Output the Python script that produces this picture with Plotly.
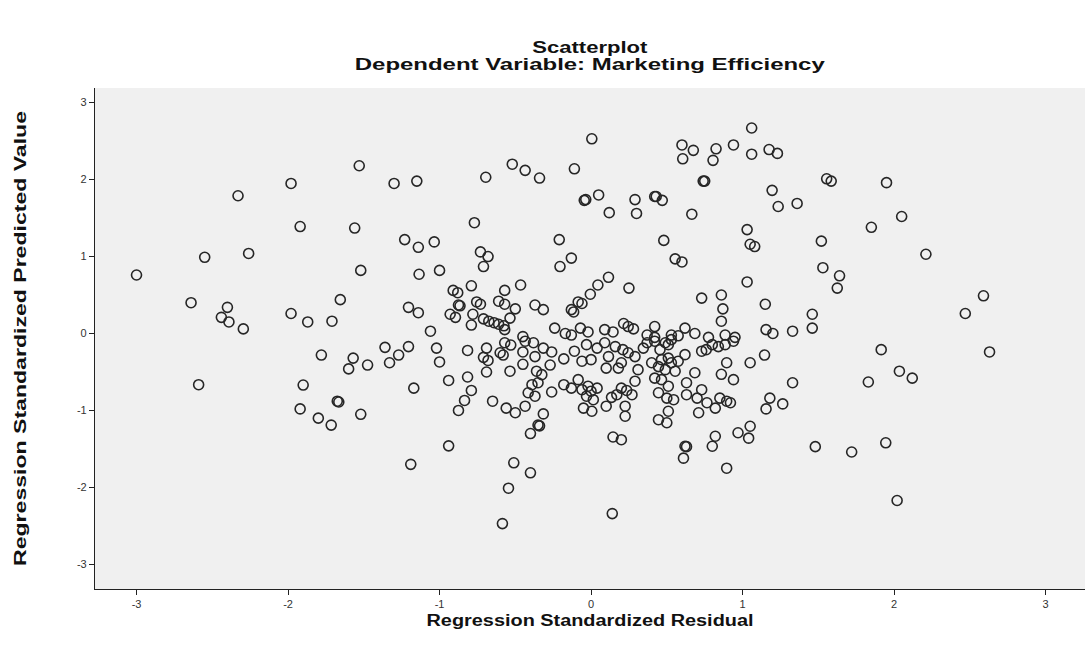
import plotly.graph_objects as go

# (residual, predicted) pairs, grouped by region
pts_top = [(1.06,2.67),(0.005,2.53),(0.60,2.45),(0.675,2.38),(0.605,2.27),(0.825,2.40),(0.805,2.25),(0.94,2.45),(1.06,2.33),(1.175,2.39),(1.23,2.34),
           (-0.695,2.03),(-0.52,2.20),(-0.435,2.12),(-0.34,2.02),(-0.11,2.14),
           (-0.045,1.73),(-0.035,1.74),(0.05,1.80),(0.29,1.74),(0.12,1.57),(0.30,1.56),(0.42,1.78),(0.43,1.78),(0.47,1.73),(0.665,1.55),
           (0.74,1.98),(0.75,1.98),(1.555,2.01),(1.585,1.98),(1.95,1.96),(1.195,1.86),(1.36,1.69),(1.235,1.65),(2.05,1.52),
           (-2.33,1.79),(-1.98,1.95),(-1.53,2.18),(-1.30,1.95),(-1.15,1.98),(-0.77,1.44)]

pts_upper_left = [(-1.92,1.39),(-1.56,1.37),(-1.23,1.22),(-1.14,1.12),(-1.035,1.19),(-2.55,0.99),(-2.26,1.04),(-3.00,0.76),(-1.52,0.82),(-1.135,0.77),(-1.00,0.82),
                  (-2.64,0.40),(-2.40,0.34),(-2.44,0.21),(-2.39,0.15),(-2.295,0.06),(-1.98,0.26),(-1.87,0.15),(-1.71,0.16),(-1.655,0.44),(-1.205,0.34),(-1.14,0.27),(-1.06,0.03)]

pts_upper_mid = [(-0.21,1.22),(0.48,1.21),(1.03,1.35),(1.05,1.16),(1.08,1.13),(-0.73,1.06),(-0.68,1.00),(-0.71,0.87),(-0.13,0.98),(-0.205,0.87),(0.555,0.97),(0.60,0.93),
                 (1.03,0.67),(0.115,0.73),(0.045,0.63),(-0.005,0.51),(0.25,0.59),(-0.465,0.63),(-0.79,0.62),(-0.91,0.56),(-0.88,0.53),(-0.57,0.56),(0.73,0.46),(0.86,0.50),(0.87,0.32),(0.86,0.16),
                 (-0.875,0.37),(-0.865,0.36),(-0.755,0.41),(-0.73,0.38),(-0.61,0.42),(-0.57,0.38),(-0.50,0.32),(-0.37,0.37),(-0.315,0.31),(-0.085,0.41),(-0.06,0.39),(-0.13,0.31),(-0.115,0.28),
                 (-0.93,0.25),(-0.895,0.21),(-0.78,0.25),(-0.79,0.11),(-0.71,0.19),(-0.675,0.16),(-0.64,0.14),(-0.61,0.12),(-0.575,0.10),(-0.535,0.20),(-0.57,0.05),
                 (-0.24,0.07),(-0.17,0.00),(-0.13,-0.02),(-0.07,0.07),(-0.02,0.02),(-0.45,-0.04),(0.09,0.05),(0.145,0.02),(0.215,0.13),(0.245,0.09),(0.28,0.06),(0.42,0.09),
                 (0.37,-0.02),(0.42,-0.05),(0.53,-0.02),(0.575,-0.03),(0.62,0.07),(0.685,0.00),(0.885,-0.02),(0.95,-0.05),(0.775,-0.05)]

pts_upper_right = [(1.85,1.38),(1.52,1.20),(2.21,1.03),(1.53,0.855),(1.64,0.75),(1.625,0.59),(2.59,0.49),(2.47,0.26),(1.15,0.38),(1.46,0.25),(1.46,0.07),(1.33,0.03),(1.155,0.05),(1.20,0.00)]

pts_lower_left = [(-1.78,-0.28),(-1.57,-0.32),(-1.60,-0.46),(-1.475,-0.41),(-1.36,-0.18),(-1.205,-0.17),(-1.27,-0.28),(-1.33,-0.38),(-1.17,-0.71),(-2.59,-0.665),(-1.90,-0.67),
                  (-1.675,-0.88),(-1.665,-0.89),(-1.92,-0.98),(-1.80,-1.10),(-1.715,-1.19),(-1.52,-1.05),(-1.19,-1.70)]

pts_dense = [(-1.02,-0.19),(-1.00,-0.37),(-0.815,-0.22),(-0.69,-0.19),(-0.71,-0.31),(-0.68,-0.35),(-0.57,-0.12),(-0.53,-0.15),(-0.58,-0.28),(-0.60,-0.25),(-0.45,-0.24),(-0.435,-0.10),
             (-0.38,-0.12),(-0.37,-0.30),(-0.315,-0.19),(-0.26,-0.24),(-0.69,-0.50),(-0.535,-0.49),(-0.45,-0.40),(-0.36,-0.49),(-0.325,-0.535),(-0.27,-0.41),(-0.18,-0.33),(-0.11,-0.23),
             (-0.03,-0.145),(0.04,-0.19),(0.00,-0.34),(-0.06,-0.36),(0.09,-0.12),(0.16,-0.17),(0.115,-0.30),(0.21,-0.21),(0.245,-0.25),(0.20,-0.38),(0.10,-0.45),(0.18,-0.45),(0.29,-0.30),
             (0.37,-0.12),(0.345,-0.19),(0.31,-0.47),(0.40,-0.38),(0.445,-0.43),(0.49,-0.47),(0.465,-0.34),(0.51,-0.32),(0.42,-0.10),(0.49,-0.12),(0.53,-0.08),(0.455,-0.21),(0.51,-0.145),
             (0.53,-0.38),(0.555,-0.49),(0.575,-0.36),(0.62,-0.275),(0.685,-0.51),(0.73,-0.23),(0.76,-0.21),(0.80,-0.145),(0.84,-0.17),(0.885,-0.145),(0.94,-0.10),(0.895,-0.38),(0.86,-0.53),
             (0.94,-0.60),(1.05,-0.38),
             (-0.94,-0.61),(-0.815,-0.565),(-0.79,-0.74),(-0.835,-0.87),(-0.875,-1.00),(-0.65,-0.88),(-0.56,-0.97),(-0.50,-1.03),(-0.435,-0.945),(-0.415,-0.77),(-0.37,-0.815),(-0.39,-0.665),
             (-0.35,-0.64),(-0.26,-0.76),(-0.315,-1.045),(-0.35,-1.19),(-0.34,-1.20),(-0.40,-1.30),(-0.18,-0.665),(-0.13,-0.71),(-0.085,-0.60),(-0.06,-0.73),(-0.02,-0.685),(0.00,-0.75),
             (0.04,-0.71),(-0.03,-0.815),(0.015,-0.86),(-0.05,-0.97),(0.005,-1.01),(0.10,-0.945),(0.135,-0.83),(0.17,-0.795),(0.20,-0.71),(0.235,-0.74),(0.29,-0.62),(0.27,-0.795),
             (0.225,-0.945),(0.225,-1.075),(0.145,-1.345),(0.20,-1.38),(0.42,-0.58),(0.465,-0.60),(0.445,-0.77),(0.50,-0.84),(0.545,-0.86),(0.51,-0.685),(0.51,-1.01),(0.445,-1.12),
             (0.50,-1.16),(0.63,-0.795),(0.70,-0.84),(0.73,-0.73),(0.765,-0.90),(0.82,-0.97),(0.85,-0.84),(0.895,-0.88),(0.92,-0.90),(0.71,-1.03),(0.63,-0.64),(0.82,-1.335),(0.80,-1.465),
             (0.62,-1.465),(0.63,-1.47),(0.61,-1.62),(0.97,-1.29),(1.04,-1.36),(1.05,-1.205),(-0.94,-1.46),(-0.51,-1.68)]

pts_lower_right = [(1.145,-0.28),(1.915,-0.21),(2.63,-0.24),(1.33,-0.64),(1.83,-0.63),(2.035,-0.49),(2.12,-0.58),(1.18,-0.84),(1.265,-0.915),(1.155,-0.98),(1.48,-1.47),(1.72,-1.54),(1.945,-1.42)]

pts_bottom = [(-0.40,-1.81),(-0.545,-2.01),(-0.585,-2.47),(0.14,-2.34),(0.895,-1.75),(2.02,-2.17)]

x_ticks = [-3, -2, -1, 0, 1, 2, 3]
y_ticks = [-3, -2, -1, 0, 1, 2, 3]

all_pts = pts_top + pts_upper_left + pts_upper_mid + pts_upper_right + pts_lower_left + pts_dense + pts_lower_right + pts_bottom
residual = [p[0] for p in all_pts]
predicted = [p[1] for p in all_pts]

fig = go.Figure()
fig.add_trace(go.Scatter(
    x=residual, y=predicted, mode="markers",
    marker=dict(symbol="circle-open", size=10, color="#262626", line=dict(width=1.6)),
    showlegend=False, hoverinfo="x+y"))

TITLE_FONT = "Arial, Liberation Sans, sans-serif"

fig.update_layout(
    width=1085, height=651,
    margin=dict(l=95, r=0, t=88, b=62),
    paper_bgcolor="white", plot_bgcolor="#f0f0f0",
    font=dict(family=TITLE_FONT, color="#222"),
    xaxis=dict(range=[-3.274, 3.26], tickvals=x_ticks, ticktext=[str(v) for v in x_ticks], automargin=False,
               showgrid=False, zeroline=False, showline=True, linecolor="#222", linewidth=1.2,
               ticks="outside", ticklen=5, tickcolor="#222", tickfont=dict(size=11, color="#333"),
               title=dict(text="Regression Standardized Residual",
                          font=dict(family=TITLE_FONT, size=16, color="#111", weight="bold"), standoff=5)),
    yaxis=dict(range=[-3.32, 3.19], tickvals=y_ticks, ticktext=[str(v) for v in y_ticks], automargin=False,
               showgrid=False, zeroline=False, showline=True, linecolor="#222", linewidth=1.2,
               ticks="outside", ticklen=5, tickcolor="#222", tickfont=dict(size=11, color="#333"),
               title=dict(text="Regression Standardized Predicted Value",
                          font=dict(family=TITLE_FONT, size=17, color="#111", weight="bold"), standoff=45)),
    annotations=[
        dict(text="Scatterplot", xref="paper", yref="paper", x=0.5, y=1.0, yshift=41,
             showarrow=False, font=dict(size=16, color="#111", weight="bold"), xanchor="center", yanchor="middle"),
        dict(text="Dependent Variable: Marketing Efficiency", xref="paper", yref="paper", x=0.5, y=1.0, yshift=24,
             showarrow=False, font=dict(size=17, color="#111", weight="bold"), xanchor="center", yanchor="middle"),
    ],
)

# remove the page's default body margin so the figure fills the window exactly,
# and stretch the title lettering, which the reference draws wider than the font's natural width
post = """
document.body.style.margin = '0';
document.body.style.overflow = 'hidden';
var gd = document.getElementById('{plot_id}');
function fit(el, len){ if(el){ el.setAttribute('textLength', len); el.setAttribute('lengthAdjust', 'spacingAndGlyphs'); } }
fit(gd.querySelector('text.xtitle'), 327);
fit(gd.querySelector('text.ytitle'), 455);
var anns = gd.querySelectorAll('text.annotation-text');
fit(anns[0], 115);
fit(anns[1], 470);
"""

fig.write_html("out.html", post_script=post, config={"displayModeBar": False})
